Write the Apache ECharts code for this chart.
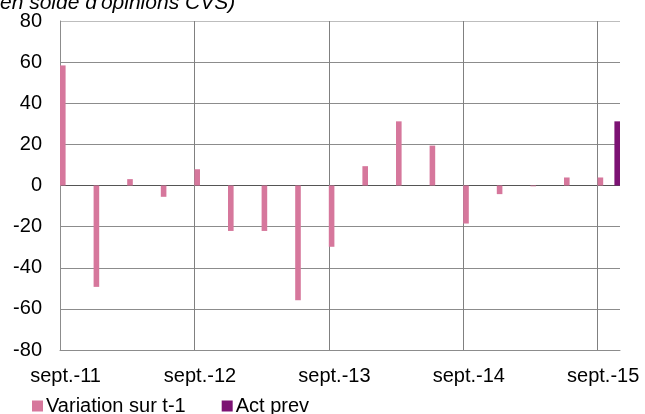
<!DOCTYPE html>
<html><head><meta charset="utf-8">
<script src="https://cdn.jsdelivr.net/npm/echarts@6/dist/echarts.min.js"></script>
<style>html,body{margin:0;padding:0;background:#fff}#c{width:645px;height:414px}</style>
</head><body><div id="c"></div>
<script>
// Monthly date axis (Excel style): sept.-11 .. oct.-15
const monthNames = ['janv.','févr.','mars','avr.','mai','juin','juil.','août','sept.','oct.','nov.','déc.'];
const firstMonth = 8;   // septembre
const firstYear = 2011;
const monthCount = 50;
const seriesNames = ['Variation sur t-1', 'Act prev'];
const quarterLabels = ['sept.-11','déc.-11','mars-12','juin-12','sept.-12','déc.-12','mars-13','juin-13','sept.-13','déc.-13','mars-14','juin-14','sept.-14','déc.-14','mars-15','juin-15','sept.-15'];
const variation = [58.4,-49.3,3.1,-5.5,7.9,-22.1,-22.1,-55.8,-29.8,9.4,31.2,19.4,-18.5,-4.2,-0.4,3.9,3.9];
const actPrevLabels = ['oct.-15'];
const actPrev = [31.2];
const yMin = -80, yMax = 80, yStep = 20;
const titleText = "(en solde d'opinions CVS)";

const months = [];
for (let i = 0; i < monthCount; i++) {
  const m = (firstMonth + i) % 12;
  const y = firstYear + Math.floor((firstMonth + i) / 12);
  months.push(monthNames[m] + '-' + String(y % 100).padStart(2, '0'));
}
const varData = months.map(() => null);
quarterLabels.forEach((l, i) => { const k = months.indexOf(l); if (k >= 0) varData[k] = variation[i]; });
const actData = months.map(() => null);
actPrevLabels.forEach((l, i) => { const k = months.indexOf(l); if (k >= 0) actData[k] = actPrev[i]; });

const chart = echarts.init(document.getElementById('c'), null, {renderer: 'canvas'});
const font = 'Liberation Sans, Arial, sans-serif';
chart.setOption({
  animation: false,
  textStyle: {fontFamily: font},
  grid: {left: 60, right: 25, top: 21, bottom: 64, containLabel: false},
  graphic: [{
    type: 'text', left: -7, top: -7,
    style: {text: titleText, font: 'italic 21px ' + font, fill: '#000'}
  }],
  legend: {
    left: 32, top: 396, padding: 0, itemWidth: 11, itemHeight: 11, itemGap: 36, icon: 'rect',
    textStyle: {fontSize: 20, color: '#000', fontFamily: font, padding: [0, 0, 0, -2]},
    data: seriesNames
  },
  xAxis: {
    type: 'category', data: months, boundaryGap: true,
    axisLine: {show: true, onZero: false, lineStyle: {color: '#8c8c8c', width: 1}},
    axisTick: {show: false},
    axisLabel: {interval: 11, fontSize: 20, color: '#000', margin: 16, fontFamily: font},
    splitLine: {show: true, interval: 11, showMaxLine: false, lineStyle: {color: '#808080', width: 1}}
  },
  yAxis: {
    type: 'value', min: yMin, max: yMax, interval: yStep,
    axisLine: {show: true, lineStyle: {color: '#8c8c8c'}},
    axisTick: {show: false},
    axisLabel: {fontSize: 20, color: '#000', margin: 18, fontFamily: font},
    splitLine: {show: true, lineStyle: {color: ['#8c8c8c','#8c8c8c','#8c8c8c','#8c8c8c','#555555','#8c8c8c','#8c8c8c','#8c8c8c','#bdbdbd'], width: 1}}
  },
  series: [
    {name: seriesNames[0], type: 'bar', data: varData, barGap: '0%', barCategoryGap: '0%', itemStyle: {color: '#D6779C'}},
    {name: seriesNames[1], type: 'bar', data: actData, barGap: '0%', barCategoryGap: '0%', itemStyle: {color: '#7C1273'}}
  ]
});
</script></body></html>
